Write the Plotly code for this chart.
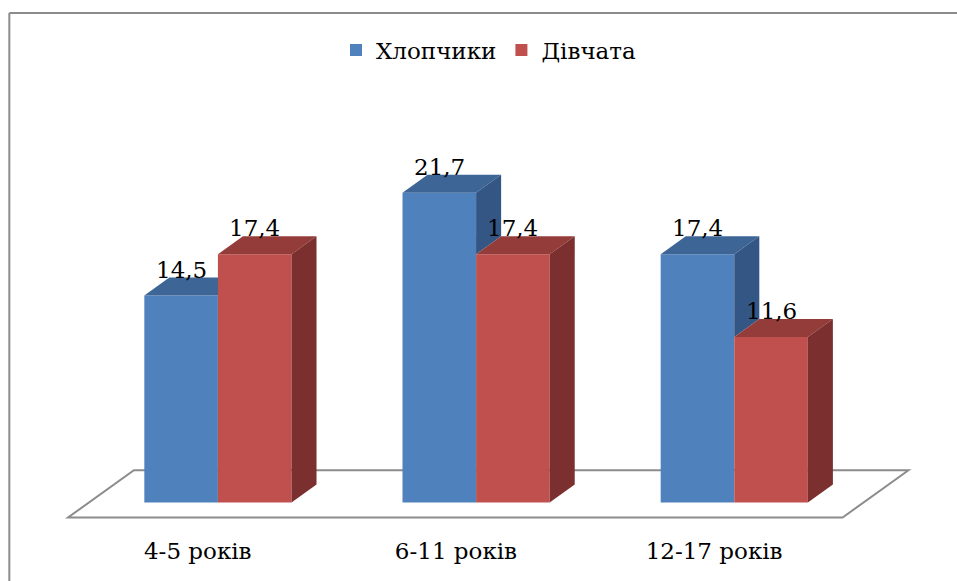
import plotly.graph_objects as go

# Data
categories = ["4-5 років", "6-11 років", "12-17 років"]
boys = [14.5, 21.7, 17.4]
girls = [17.4, 17.4, 11.6]
series_names = ["Хлопчики", "Дівчата"]

# Style
FONT = "'DejaVu Serif', serif"
FONT_SIZE = 23
BLUE = {"front": "#4F81BD", "top": "#3D6596", "side": "#335684"}
RED = {"front": "#C0504D", "top": "#943C3A", "side": "#7B2F2E"}
FRAME = "#8C8C8C"

# 3D geometry in data units
BAR_W = 0.285        # width of each bar (category units)
DEPTH_X = 0.097      # horizontal shift of the back face
DEPTH_Y = 1.26       # vertical shift of the back face
FLOOR_FRONT = 0.83   # floor extends this many depths in front of the bars
FLOOR_BACK = 1.80    # ... and this many depths behind the bar fronts
LABEL_SHIFT = 0.078  # category labels sit on the front edge of the floor

X_RANGE = [-0.6, 2.7]
Y_RANGE = [-1.5, 24]

xs = list(range(len(categories)))


def fmt(v):
    return f"{v:.1f}".replace(".", ",")


def faces(x0, v, base):
    """Top and right-side polygons of a box from x0 to x0+BAR_W, height v.
    The side face starts at `base` (hidden part below is covered by the neighbour)."""
    x1 = x0 + BAR_W
    top = ([x0, x1, x1 + DEPTH_X, x0 + DEPTH_X, x0],
           [v, v, v + DEPTH_Y, v + DEPTH_Y, v])
    side = ([x1, x1, x1 + DEPTH_X, x1 + DEPTH_X, x1],
            [base, v, v + DEPTH_Y, base + DEPTH_Y, base])
    return top, side


fig = go.Figure()


def add_series(name, values, offset, colors, xa, ya, neighbour=None):
    fig.add_trace(go.Bar(
        x=xs, y=values, name=name, width=BAR_W, offset=offset,
        marker=dict(color=colors["front"], line=dict(width=0)),
        xaxis=xa, yaxis=ya, hoverinfo="skip",
    ))
    for i, v in enumerate(values):
        x0 = xs[i] + offset
        base = 0 if neighbour is None else min(max(neighbour[i], 0), v)
        top, side = faces(x0, v, base)
        for (px, py), col in ((top, colors["top"]), (side, colors["side"])):
            fig.add_trace(go.Scatter(
                x=px, y=py, mode="lines", fill="toself", fillcolor=col,
                line=dict(width=0, color=col), showlegend=False,
                hoverinfo="skip", xaxis=xa, yaxis=ya,
            ))


# Boys on the first subplot, girls overlaid on top so their boxes hide
# the parts of the boys' boxes that sit behind them.
add_series(series_names[0], boys, -BAR_W, BLUE, "x", "y", neighbour=girls)
add_series(series_names[1], girls, 0.0, RED, "x2", "y2")

# Value labels sitting on the back edge of each bar top
for vals, off in ((boys, -BAR_W), (girls, 0.0)):
    for i, v in enumerate(vals):
        fig.add_annotation(
            x=xs[i] + off + BAR_W / 2, y=v + DEPTH_Y, xref="x", yref="y",
            text=fmt(v), showarrow=False, yanchor="bottom", yshift=-7,
            font=dict(family=FONT, size=FONT_SIZE, color="black"),
        )

# Floor parallelogram under the bars
xl, xr = xs[0] - 0.5, xs[-1] + 0.5
fl_f = (-FLOOR_FRONT * DEPTH_X, -FLOOR_FRONT * DEPTH_Y)
fl_b = (FLOOR_BACK * DEPTH_X, FLOOR_BACK * DEPTH_Y)
floor_path = (f"M{xl + fl_f[0]},{fl_f[1]} L{xr + fl_f[0]},{fl_f[1]} "
              f"L{xr + fl_b[0]},{fl_b[1]} L{xl + fl_b[0]},{fl_b[1]} Z")
fig.add_shape(type="path", path=floor_path, xref="x", yref="y",
              line=dict(color=FRAME, width=2), fillcolor="white", layer="below")

# Chart frame (left and top edges)
fig.add_shape(type="line", xref="paper", yref="paper",
              x0=-0.063, x1=-0.063, y0=-0.2, y1=1.404,
              line=dict(color=FRAME, width=2))
fig.add_shape(type="line", xref="paper", yref="paper",
              x0=-0.063, x1=1.2, y0=1.404, y1=1.404,
              line=dict(color=FRAME, width=2))

axis_common = dict(showgrid=False, zeroline=False, showline=False, fixedrange=True)
fig.update_layout(
    width=957, height=581,
    margin=dict(l=63, r=42, t=160, b=57),
    paper_bgcolor="white", plot_bgcolor="rgba(0,0,0,0)",
    barmode="overlay",
    font=dict(family=FONT, size=FONT_SIZE, color="black"),
    xaxis=dict(range=X_RANGE, tickmode="array",
               tickvals=[x - LABEL_SHIFT for x in xs], ticktext=categories,
               ticks="", ticklabelstandoff=11,
               tickfont=dict(family=FONT, size=FONT_SIZE, color="black"),
               **axis_common),
    yaxis=dict(range=Y_RANGE, showticklabels=False, **axis_common),
    xaxis2=dict(range=X_RANGE, overlaying="x", showticklabels=False, **axis_common),
    yaxis2=dict(range=Y_RANGE, overlaying="y", showticklabels=False, **axis_common),
    legend=dict(orientation="h", x=0.50, xanchor="center", y=1.302,
                yanchor="middle", font=dict(family=FONT, size=FONT_SIZE),
                bgcolor="rgba(0,0,0,0)", traceorder="normal"),
    showlegend=True,
)

fig.write_html("out.html")
